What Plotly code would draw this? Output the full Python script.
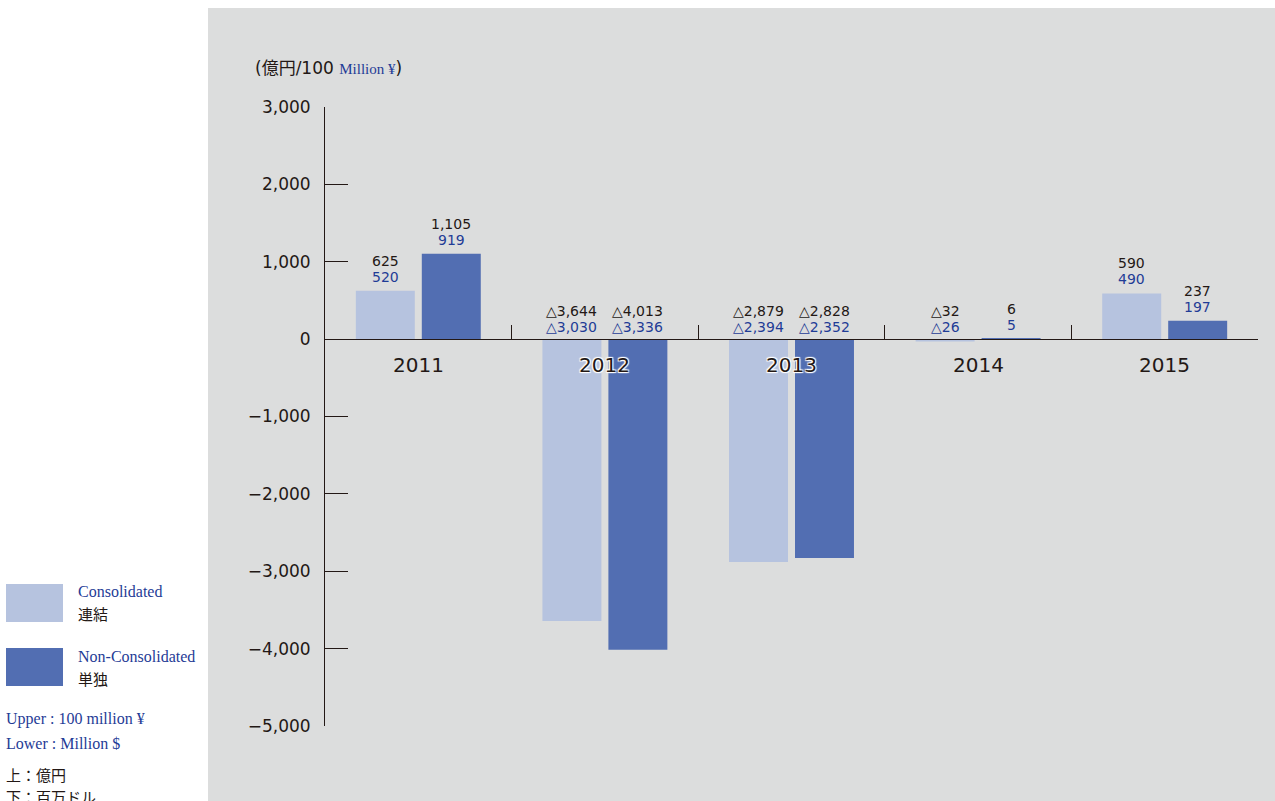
import plotly.graph_objects as go

years = ["2011", "2012", "2013", "2014", "2015"]
consolidated_jpy = [625, -3644, -2879, -32, 590]
nonconsolidated_jpy = [1105, -4013, -2828, 6, 237]
consolidated_usd = [520, -3030, -2394, -26, 490]
nonconsolidated_usd = [919, -3336, -2352, 5, 197]
y_ticks = [3000, 2000, 1000, 0, -1000, -2000, -3000, -4000, -5000]

LIGHT = "#b6c3df"
DARK = "#526eb2"
BLACK = "#231815"
BLUE = "#1f3c96"
GRAY = "#dcdddd"
SANS = "DejaVu Sans, Noto Sans CJK JP"
SERIF = "Liberation Serif"
CJK = "Noto Sans CJK JP"

W, H = 1275, 801
L, R, T, B = 325, W - 1258, 107, H - 726
PW, PH = W - L - R, H - T - B


def px(x):  # page pixel -> paper
    return (x - L) / PW


def py(y):
    return (H - B - y) / PH


def fmt(v):
    return ("△" if v < 0 else "") + f"{abs(v):,}"


fig = go.Figure()
fig.add_trace(go.Bar(x=years, y=consolidated_jpy, marker=dict(color=LIGHT, line=dict(width=0)),
                     name="Consolidated", hoverinfo="skip"))
fig.add_trace(go.Bar(x=years, y=nonconsolidated_jpy, marker=dict(color=DARK, line=dict(width=0)),
                     name="Non-Consolidated", hoverinfo="skip"))

annotations = []
for i, yr in enumerate(years):
    for vals_j, vals_u, shift in ((consolidated_jpy, consolidated_usd, -33),
                                  (nonconsolidated_jpy, nonconsolidated_usd, 33)):
        v = vals_j[i]
        base = 14 if v > 0 else 12
        for txt, col, ys in ((fmt(vals_u[i]), BLUE, base), (fmt(v), BLACK, base + 16)):
            annotations.append(dict(
                x=i, y=max(v, 0), xref="x", yref="y", text=txt,
                showarrow=False, xshift=shift, yshift=ys, yanchor="middle", xanchor="center",
                font=dict(family=SANS, size=14, color=col)))
    shadow = ("1px 1px 1px white, -1px -1px 1px white, 1px -1px 1px white, -1px 1px 1px white"
              if i in (1, 2) else "none")
    annotations.append(dict(
        x=i, y=0, xref="x", yref="y", text=yr, showarrow=False, yanchor="top",
        yshift=-12, font=dict(family=SANS, size=20, color=BLACK, shadow=shadow)))

# unit label
annotations.append(dict(
    x=px(253), y=py(68), xref="paper", yref="paper", xanchor="left", yanchor="middle",
    showarrow=False,
    text=f"(億円/100 <span style='font-family:{SERIF};font-size:15px;color:{BLUE}'>Million ¥</span>)",
    font=dict(family=SANS, size=17, color=BLACK)))

# side legend texts
side_texts = [
    (76, 591, "Consolidated", SERIF, 16, BLUE),
    (76, 613, "連結", CJK, 15, BLACK),
    (76, 656, "Non-Consolidated", SERIF, 16, BLUE),
    (76, 678, "単独", CJK, 15, BLACK),
    (4, 719, "Upper : 100 million ¥", SERIF, 16, BLUE),
    (4, 743, "Lower : Million $", SERIF, 16, BLUE),
    (4, 774, "上：億円", CJK, 15, BLACK),
    (4, 796, "下：百万ドル", CJK, 15, BLACK),
]
for x, y, t, fam, sz, col in side_texts:
    annotations.append(dict(x=px(x), y=py(y), xref="paper", yref="paper", xanchor="left",
                            yanchor="middle", showarrow=False, text=t,
                            font=dict(family=fam, size=sz, color=col)))

shapes = [
    dict(type="rect", xref="paper", yref="paper", x0=px(208), x1=px(1290), y0=py(815), y1=py(8),
         fillcolor=GRAY, line=dict(width=0), layer="below"),
    dict(type="rect", xref="paper", yref="paper", x0=px(6), x1=px(63), y0=py(622), y1=py(584),
         fillcolor=LIGHT, line=dict(width=0)),
    dict(type="rect", xref="paper", yref="paper", x0=px(6), x1=px(63), y0=py(686), y1=py(648),
         fillcolor=DARK, line=dict(width=0)),
]

fig.update_layout(
    width=W, height=H, autosize=False,
    margin=dict(l=L, r=R, t=T, b=B, pad=0),
    paper_bgcolor="white", plot_bgcolor="rgba(0,0,0,0)",
    barmode="group", bargap=0.293, bargroupgap=0.106,
    showlegend=False,
    annotations=annotations, shapes=shapes,
    xaxis=dict(type="category", anchor="free", position=0.625, showline=True,
               linecolor=BLACK, linewidth=1, ticks="inside", ticklen=14, tickcolor=BLACK,
               tickson="boundaries", showticklabels=False, showgrid=False, zeroline=False,
               range=[-0.5, 4.5]),
    yaxis=dict(range=[-5000, 3000], tickvals=y_ticks, tickformat=",", ticks="inside",
               ticklen=23, tickcolor=BLACK, showline=True, linecolor=BLACK, linewidth=1,
               showgrid=False, zeroline=False, ticklabelstandoff=10,
               tickfont=dict(family=SANS, size=17, color=BLACK)),
)

fig.write_html("out.html", config={"displayModeBar": False},
               post_script="document.body.style.margin='0';document.body.style.overflow='hidden';")
